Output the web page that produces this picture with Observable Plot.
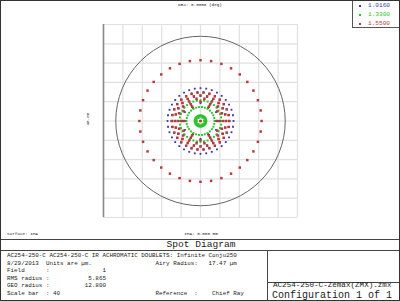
<!DOCTYPE html>
<html>
<head>
<meta charset="utf-8">
<script src="https://cdn.jsdelivr.net/npm/d3@7"></script>
<script src="https://cdn.jsdelivr.net/npm/@observablehq/plot@0.6"></script>
<style>
  html, body { margin: 0; padding: 0; background: #fff; }
  #wrap { position: relative; width: 400px; height: 301px; overflow: hidden; background: #fff; }
  #wrap svg { position: absolute; left: 0; top: 0; }
  .t { position: absolute; white-space: pre; font-family: "Liberation Mono", "DejaVu Sans Mono", monospace; color: #222; line-height: 1; }
  .hl { position: absolute; background: #444; }
</style>
</head>
<body>
<div id="wrap"></div>
<script>
// ---- data ----
const wavelengths = ["1.0160", "1.3300", "1.5500"];
const seriesColors = ["#3a3aaa", "#2ac42a", "#b83a3a"];
const ringPointCounts = [1, 6, 12, 18, 24, 30, 36];          // hexapolar rays per pupil ring
const blueRingRadii  = [0, 3.1, 3.7, 4.4, 5.2, 6.0, 6.8];      // µm, image radius of each ring
const greenRingRadii = [0, 0.75, 0.9, 1.05, 1.2, 2.9, 4.3];
const redRingRadii   = [0, 3.4, 4.0, 4.7, 5.3, 5.9, 12.6];
const airyRadius = 17.47;
const scaleBar = 40;
const gridTicks = [-20, -16, -12, -8, -4, 0, 4, 8, 12, 16, 20];

// build point tables from ring radii and hexapolar counts
function ringPoints(radii, wl) {
  const pts = [];
  radii.forEach((r, k) => {
    const n = ringPointCounts[k];
    for (let j = 0; j < n; j++) {
      const a = 2 * Math.PI * j / n;
      pts.push({x: r * Math.cos(a), y: r * Math.sin(a), wl});
    }
  });
  return pts;
}
const bluePts = ringPoints(blueRingRadii, wavelengths[0]);
const greenPts = ringPoints(greenRingRadii, wavelengths[1]);
const redPts = ringPoints(redRingRadii, wavelengths[2]);

const half = scaleBar / 2;
const chart = Plot.plot({
  width: 400, height: 301,
  marginLeft: 103, marginRight: 103, marginTop: 24, marginBottom: 84,
  x: {domain: [-half, half], axis: null},
  y: {domain: [-half, half], axis: null},
  r: {type: "linear", domain: [0, half], range: [0, 97]},
  style: {background: "transparent"},
  marks: [
    Plot.gridX(gridTicks, {stroke: "#e0e0e0", strokeOpacity: 1, strokeWidth: 1.2}),
    Plot.gridY(gridTicks, {stroke: "#e0e0e0", strokeOpacity: 1, strokeWidth: 1.2}),
    Plot.ruleX([-half], {stroke: "#8a8a8a", strokeWidth: 1.6}),
    Plot.dot([{x: 0, y: 0, r: airyRadius}], {x: "x", y: "y", r: "r", stroke: "#666", strokeWidth: 1, fill: "none"}),
    Plot.dot(bluePts, {x: "x", y: "y", r: 1.05, symbol: "square", fill: seriesColors[0]}),
    Plot.dot(greenPts, {x: "x", y: "y", r: 1.1, symbol: "square", fill: seriesColors[1]}),
    Plot.dot(redPts, {x: "x", y: "y", r: 1.4, symbol: "square", fill: seriesColors[2]})
  ]
});
const wrap = document.getElementById("wrap");
wrap.appendChild(chart);

function txt(s, x, cy, fs, opts = {}) {
  const d = document.createElement("div");
  d.className = "t";
  d.textContent = s;
  d.style.fontSize = fs + "px";
  d.style.top = (cy - fs / 2) + "px";
  if (opts.center) { d.style.left = x + "px"; d.style.transform = "translateX(-50%)"; }
  else d.style.left = x + "px";
  if (opts.color) d.style.color = opts.color;
  if (opts.rotate) { d.style.left = x + "px"; d.style.transform = "translate(-50%,0) rotate(-90deg)"; }
  wrap.appendChild(d);
  return d;
}
function line(x, y, w, h, c = "#444") {
  const d = document.createElement("div");
  d.className = "hl";
  Object.assign(d.style, {left: x + "px", top: y + "px", width: w + "px", height: h + "px", background: c});
  wrap.appendChild(d);
}

txt("OBJ: 0.0000 (deg)", 200, 5, 4.3, {center: true});
txt(scaleBar.toFixed(2), 88, 119, 4.3, {rotate: true});
txt("Surface: IMA", 7, 234, 4.3);
txt("IMA: 0.000 mm", 201, 234, 4.3, {center: true});

// legend
const lg = document.createElement("div");
Object.assign(lg.style, {position: "absolute", left: "352px", top: "-1px", width: "48px", height: "29px",
  borderLeft: "1px solid #555", borderBottom: "1px solid #555", boxSizing: "border-box"});
wrap.appendChild(lg);
const rowsY = [5.7, 15, 24.3];
wavelengths.forEach((w, i) => {
  const m = document.createElement("div");
  Object.assign(m.style, {position: "absolute", left: "359px", top: (rowsY[i] - 1) + "px", width: "2px", height: "2px", background: seriesColors[i]});
  wrap.appendChild(m);
  txt(w, 368, rowsY[i], 6.1, {color: seriesColors[i]});
});

// bottom info block
line(0, 239, 400, 1);
line(0, 249.5, 400, 1);
line(267, 250, 1, 51);
line(267, 281.5, 133, 1);
txt("Spot Diagram", 201, 244.5, 9.6, {center: true});
const fsB = 5.9;
const blockLines = [
  "AC254-250-C AC254-250-C IR ACHROMATIC DOUBLETS: Infinite Conju250",
  "8/29/2013  Units are \u00b5m.                  Airy Radius:   17.47 \u00b5m",
  "Field      :               1",
  "RMS radius :           5.865",
  "GEO radius :          12.800",
  "Scale bar  : " + scaleBar + "                           Reference  :    Chief Ray"
];
const blockY = [256, 263.5, 271, 278.5, 286, 293.5];
blockLines.forEach((s, i) => txt(s, 7, blockY[i], fsB));
txt("AC254-250-C-Zemax(ZMX).zmx", 273, 286, 7.6);
txt("Configuration 1 of 1", 272, 295.6, 10);

// outer border
const bd = document.createElement("div");
Object.assign(bd.style, {position: "absolute", left: "0", top: "0", width: "400px", height: "301px",
  border: "1px solid #333", boxSizing: "border-box", pointerEvents: "none"});
wrap.appendChild(bd);
</script>
</body>
</html>
